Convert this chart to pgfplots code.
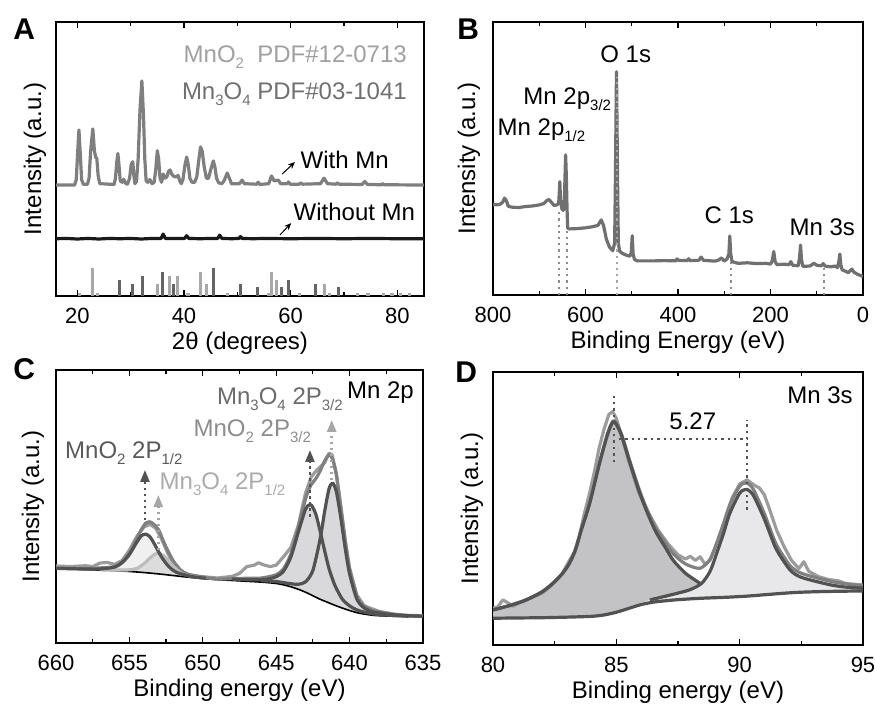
\documentclass[border=0pt]{standalone}
\usepackage{fontspec}
\setmainfont{Liberation Sans}
\usepackage{pgfplots}
\pgfplotsset{compat=1.18}
\usepgfplotslibrary{fillbetween}
\usetikzlibrary{arrows.meta}

\definecolor{gA}{HTML}{7F7F7F}
\definecolor{barL}{HTML}{A8A8A8}
\definecolor{barD}{HTML}{646464}
\definecolor{txtL}{HTML}{A0A0A0}
\definecolor{txtD}{HTML}{707070}
\definecolor{survey}{HTML}{707070}
\definecolor{dotB}{HTML}{8C8C8C}
\definecolor{compD}{HTML}{525252}
\definecolor{envG}{HTML}{808080}
\definecolor{rawG}{HTML}{9C9C9C}
\definecolor{compL}{HTML}{BDBDBD}
\definecolor{fillC}{HTML}{D9D9DB}
\definecolor{fillCa}{HTML}{F0F0F0}
\definecolor{fillCb}{HTML}{DCDCDC}
\definecolor{fillDa}{HTML}{C3C3C5}
\definecolor{fillDb}{HTML}{E8E8EA}

\newcommand{\lab}{\fontsize{12}{14}\selectfont}
\newcommand{\sub}[1]{\raisebox{-3pt}{\fontsize{7.5}{8}\selectfont #1}}

\pgfplotsset{
  panel/.style={
    scale only axis,
    axis line style={line width=0.9pt},
    ymin=0, ymax=100,
    ytick=\empty, minor ytick={10,20,...,90},
    minor x tick num=1,
    tick align=inside,
    major tick length=3pt, minor tick length=2pt,
    every tick/.style={black,line width=0.6pt},
    xticklabel style={font=\fontsize{11}{13}\selectfont,anchor=center,yshift=-10pt,inner sep=0pt},
    /pgf/number format/assume math mode=true,
    /pgf/number format/1000 sep={},
    every axis x label/.style={at={(axis description cs:0.5,0)},anchor=center,yshift=-23.5pt,font=\lab,inner sep=0pt},
    every axis y label/.style={rotate=90,anchor=center,font=\lab,inner sep=0pt},
    set layers,
  },
  fitline/.style={smooth,tension=0.45,line width=1.6pt,line join=round},
  rawline/.style={line width=1.6pt,line join=round},
}
\tikzset{note/.style={font=\lab,inner sep=0pt}}

\begin{document}
\begin{tikzpicture}

% ---------- A: XRD ----------
\begin{axis}[panel, at={(28pt,205.5pt)}, anchor=south west,
  width=184pt, height=137pt,
  xmin=16, xmax=85, xtick={20,40,60,80},
  xlabel={2θ (degrees)}, ylabel={Intensity (a.u.)},
  ylabel style={at={(axis description cs:-0.057,0.5)}}]
\addplot[ycomb, barL, line width=1.6pt, mark=none] coordinates {
 (20.4,1)(22.8,10.3)(23.75,1)(35.0,4.2)(37.3,7.2)(38.75,7.2)(40.75,1)(43.1,8.7)
 (44.2,4.2)(48.1,1)(55.9,1)(56.4,8.7)(57.4,5.7)(61.7,1)(66.3,4.2)(67.3,1)
 (72.6,1)(74.5,1)(77.4,1)(79,1)(80.6,1)(82.3,1)};
\addplot[ycomb, barD, line width=1.6pt, mark=none] coordinates {
 (27.9,5.7)(30.4,4.2)(32.2,7.2)(36.0,8.7)(38.1,4.2)(45.5,10.3)(50.6,4.2)
 (53.75,3.3)(58.25,3.3)(59.6,5.7)(64.6,4.2)(69,3.3)};
\addplot[rawline, black!90] coordinates {
 (16,20.9)(18,21)(20,20.8)(22,21)(24,20.8)(26,21)(28,20.9)(30,21)(32,20.8)(34,21)
 (35.7,21)(36.1,22.6)(36.5,21)(38,21)(40.1,21)(40.5,22)(40.9,21)(43,20.9)(45,21)
 (46.3,21)(46.7,22.2)(47.1,21)(49,20.9)(50.3,21)(50.6,21.7)(50.9,21)(53,20.9)
 (55,21)(60,20.9)(65,21)(70,20.9)(75,21)(80,20.9)(85,20.9)};
\addplot[rawline, gA] coordinates {
 (16,40.5)(19.5,40.5)(19.8,42.5)(20.05,52)(20.3,60.6)(20.55,52)(20.8,42.5)(21.1,40.8)
 (21.9,40.8)(22.2,43)(22.5,53)(22.9,61)(23.2,53)(23.45,50.5)(23.65,50.3)(23.9,44)
 (24.2,41)(26.9,40.7)(27.15,43)(27.4,49)(27.6,52)(27.8,48)(28.05,42)(28.4,41.5)
 (28.7,42.6)(29.0,41.2)(29.4,40.8)(29.8,43)(30.1,48)(30.4,49)(30.6,44)(30.8,41)
 (31.1,41.8)(31.4,50)(31.75,68)(32.1,78.5)(32.4,66)(32.65,50)(32.9,42)(33.2,41.5)
 (33.6,42.5)(34.0,41)(34.4,41.5)(34.7,46)(35.0,53)(35.25,50)(35.5,43)(35.8,41.5)
 (36.1,44.5)(36.4,43)(36.8,43.5)(37.1,45.5)(37.4,46)(37.7,44.5)(38.1,43.6)(38.5,43.5)
 (38.9,44)(39.2,42)(39.5,41)(39.8,42.5)(40.2,48)(40.5,50.7)(40.8,48)(41.1,43)
 (41.5,41.5)(42.0,41.5)(42.4,43.5)(42.8,50)(43.1,54.4)(43.4,53)(43.8,47)(44.2,43)
 (44.6,43)(45.0,46)(45.5,49.3)(45.8,47)(46.1,43)(46.5,41.3)(47.1,41)(47.5,42)
 (48.1,44.9)(48.5,43)(48.9,41)(50.4,41)(50.9,42.3)(51.3,41)(53.6,40.8)(53.9,41.5)
 (54.2,40.7)(55.9,41)(56.4,43.8)(56.9,42)(57.7,42.3)(58.1,41)(59.3,41)(59.6,41.6)
 (59.9,40.8)(61.6,40.8)(61.9,41.3)(62.2,40.8)(65.6,41)(66.25,43)(66.9,41)(68.5,40.8)
 (68.75,41.3)(69.1,40.8)(73.4,40.7)(73.9,41.8)(74.4,40.7)(77,40.6)(77.25,41)
 (77.5,40.6)(85,40.5)};
\node[note, anchor=base east, text=txtL] at (axis cs:81.85,85.1)
  {MnO\sub{2}\ \ PDF\#12-0713};
\node[note, anchor=base east, text=txtD] at (axis cs:81.85,71.8)
  {Mn\sub{3}O\sub{4} PDF\#03-1041};
\node[note, anchor=base west] at (axis cs:61.8,46.6) {With Mn};
\node[note, anchor=base west] at (axis cs:60.5,27.7) {Without Mn};
\draw[-{Stealth[length=3.5pt,width=3pt]}, line width=0.5pt] (axis cs:58.4,44.5) -- (axis cs:60.8,48.9);
\draw[-{Stealth[length=3.5pt,width=3pt]}, line width=0.5pt] (axis cs:58.0,22.3) -- (axis cs:60.1,26.6);
\end{axis}

% ---------- B: XPS survey ----------
\begin{axis}[panel, at={(246.5pt,206pt)}, anchor=south west,
  width=185pt, height=136.5pt,
  x dir=reverse, xmin=0, xmax=800, xtick={0,200,...,800},
  xlabel={Binding Energy (eV)}, ylabel={Intensity (a.u.)},
  ylabel style={at={(axis description cs:-0.065,0.5)}}]
\addplot[dotB, dotted, line width=1.1pt] coordinates {(656.7,0)(656.7,31)};
\addplot[dotB, dotted, line width=1.1pt] coordinates {(640.7,0)(640.7,24)};
\addplot[dotB, dotted, line width=1.1pt] coordinates {(285,0)(285,12)};
\addplot[dotB, dotted, line width=1.1pt] coordinates {(84,0)(84,11)};
\addplot[rawline, survey] coordinates {
 (800,33.3)(792,33)(785,33.2)(779,34)(775,35.5)(771,34.5)(767,32.5)(760,32.2)
 (745,32)(730,32.4)(715,32.6)(700,33)(690,33.5)(684,34.5)(679,35)(674,34)(668,32.8)
 (662,33)(658,33.5)(656.5,38)(655.5,41.5)(654,35)(651,31.5)(648,31)(646,33)
 (644.5,42)(643,51.3)(641.5,44)(640,32)(638.5,24.5)(635,24.2)(620,24.3)(600,24.6)
 (585,25)(573,25.5)(566,27.5)(561,25.5)(555,20.5)(548,17.5)(541,16.2)(537,19)
 (535.5,40)(533,81.8)(530.5,40)(529,19)(526,16)(521,15.3)(512,14.6)(504,14.2)
 (501,15.5)(499,21.7)(497,15)(494,13)(488,12.5)(470,12.5)(450,12.5)(430,12.6)
 (405,12.5)(402,13.2)(398,12.6)(380,12.6)(377,13.3)(374,12.6)(355,12.7)(350,13.9)
 (345,12.7)(320,12.4)(312,12.8)(306,13.6)(300,12.4)(294,13.2)(290,15)(288,21.6)
 (286,15)(283,12.2)(270,11.6)(250,11.8)(230,11.5)(210,11.6)(200,11.3)(196,12.6)
 (193,15.9)(190,12.2)(186,11.1)(170,11.3)(160,11.1)(156,12.2)(152,10.9)(140,10.7)
 (137,14)(135,18.3)(133,13)(130,10.5)(115,10.6)(106,11.6)(100,10.9)(90,10.7)
 (86,11.5)(82,10.6)(70,10.3)(60,10.6)(55,10)(52,12.5)(50,15)(48,11)(45,9.2)
 (38,8.7)(32,8.2)(27,9)(24,9.5)(20,8.4)(12,7.6)(5,7.1)(0,6.8)};
\addplot[black!35, dotted, line width=1.1pt] coordinates {(531.5,0)(531.5,80)};
\node[note, anchor=base] at (axis cs:513,85.2) {O 1s};
\node[note, anchor=base west] at (axis cs:735,69.6) {Mn 2p\sub{3/2}};
\node[note, anchor=base west] at (axis cs:790.7,58.6) {Mn 2p\sub{1/2}};
\node[note, anchor=base] at (axis cs:289,26.3) {C 1s};
\node[note, anchor=base] at (axis cs:88,21.7) {Mn 3s};
\end{axis}

% ---------- C: Mn 2p ----------
\begin{axis}[panel, at={(28pt,32pt)}, anchor=south west,
  width=183.5pt, height=136.5pt,
  x dir=reverse, xmin=635, xmax=660, xtick={635,640,...,660},
  xlabel={Binding energy (eV)}, ylabel={Intensity (a.u.)},
  ylabel style={at={(axis description cs:-0.063,0.5)}}]
\addplot[name path=bgC, draw=none, smooth, tension=0.45] coordinates {
 (635,9.6)(636,9.7)(637,9.8)(638,10.0)(638.5,10.2)(639,10.6)(639.5,11.1)(640,11.9)
 (640.5,12.8)(641,13.8)(641.5,14.9)(642,16.0)(642.5,17.3)(643,18.6)(643.5,19.7)
 (644,20.6)(644.5,21.3)(645,21.8)(646,22.3)(647,22.6)(648,22.9)(649,23.2)(650,23.6)
 (651,24.1)(652,24.7)(653,25.3)(654,25.8)(655,26.2)(656,26.5)(657,26.7)(658,26.9)
 (659,27.1)(660,27.3)};
\addplot[name path=c1, draw=none, smooth, tension=0.45] coordinates {
 (636,9.8)(638,10.4)(639,11.3)(639.5,12.1)(640,13.6)(640.5,16.1)(641,21.1)(641.4,27.2)
 (641.7,33.8)(642,40.8)(642.3,47.2)(642.65,50.7)(643,49.0)(643.5,40.5)(644,31.5)
 (644.5,26.3)(645,24.3)(645.5,23.5)(646,23.2)(647,23.2)(648,23.4)};
\addplot[name path=c2, draw=none, smooth, tension=0.45] coordinates {
 (635,9.8)(636,10.0)(637,10.3)(638,11.0)(638.5,11.5)(639,12.8)(639.5,16.0)(640,25.3)
 (640.3,34.7)(640.6,45.9)(640.9,55.4)(641.15,58.6)(641.4,56.5)(641.7,48.2)(642,38.3)
 (642.5,26.6)(643,22.4)(643.5,21.5)(644,21.7)(645,22.5)(646,22.8)};
\addplot[name path=c3, draw=none, smooth, tension=0.45] coordinates {
 (649.8,23.7)(650.8,24.4)(651.8,25.9)(652.3,27.9)(652.8,31.4)(653.3,36.3)(653.6,38.9)
 (653.9,39.9)(654.2,39.2)(654.5,36.9)(655,32.4)(655.5,29.4)(656,27.8)(657,27.1)
 (658,27.1)(659,27.2)(660,27.35)};
\addplot[name path=c4, draw=none, smooth, tension=0.45] coordinates {
 (650,23.8)(651,24.7)(651.5,25.7)(652,28.0)(652.4,30.5)(652.7,32.1)(653,32.9)
 (653.3,32.4)(653.6,31.1)(654,29.1)(654.5,27.3)(655,26.8)(656,26.7)(657,26.8)};
\addplot[fill=fillC, draw=none] fill between[of=c1 and bgC, soft clip={domain=636:648}];
\addplot[fill=fillC, draw=none] fill between[of=c2 and bgC, soft clip={domain=635:646}];
\addplot[fill=fillCa, draw=none] fill between[of=c3 and bgC, soft clip={domain=649.8:660}];
\addplot[fill=fillCb, draw=none] fill between[of=c4 and bgC, soft clip={domain=650:657}];
% background
\addplot[smooth, tension=0.45, black, line width=0.8pt] coordinates {
 (635,9.6)(636,9.7)(637,9.8)(638,10.0)(638.5,10.2)(639,10.6)(639.5,11.1)(640,11.9)
 (640.5,12.8)(641,13.8)(641.5,14.9)(642,16.0)(642.5,17.3)(643,18.6)(643.5,19.7)
 (644,20.6)(644.5,21.3)(645,21.8)(646,22.3)(647,22.6)(648,22.9)(649,23.2)(650,23.6)
 (651,24.1)(652,24.7)(653,25.3)(654,25.8)(655,26.2)(656,26.5)(657,26.7)(658,26.9)
 (659,27.1)(660,27.3)};
% raw data
\addplot[rawline, rawG] coordinates {
 (635,10.0)(636,10.1)(637,10.6)(638,11.6)(639,13.6)(639.5,17.5)(640,27.5)(640.3,38)
 (640.6,50)(640.9,62)(641.2,69)(641.4,69.5)(641.7,66)(642.0,64.5)(642.2,63.5)
 (642.6,61)(643,55)(643.5,43)(644,35)(644.5,31.6)(645,28.5)(645.4,28)(645.8,28.5)
 (646.2,29.4)(646.5,28.5)(647,28)(647.5,25.5)(648,24.4)(649,23.8)(650,24.3)(651,25)
 (651.5,26)(652,29)(652.4,33)(652.8,38)(653.2,42)(653.6,43.5)(654,42.5)(654.5,39)
 (655,34)(655.5,30.2)(656,28.8)(656.5,29.5)(657,29.3)(657.5,28.0)(658,28.3)(659,28)
 (660,28.2)};
% envelope
\addplot[fitline, envG] coordinates {
 (635,9.8)(636,10.0)(637,10.5)(638,11.4)(638.5,12.0)(639,13.5)(639.5,17.0)(640,27.0)
 (640.3,37.3)(640.6,49.9)(640.9,61.4)(641.15,67.2)(641.4,69.0)(641.7,66.7)(642,63.1)
 (642.3,60.2)(642.65,57.7)(643,52.8)(643.5,42.3)(644,32.6)(644.5,27.2)(645,25.0)
 (646,23.8)(647,23.7)(648,23.6)(649,23.4)(650,24.1)(651,25.2)(651.5,26.7)(652,30.0)
 (652.4,34.0)(652.7,37.5)(653,41.4)(653.3,43.3)(653.6,44.4)(653.9,43.8)(654.2,41.4)
 (654.5,38.2)(655,33.0)(655.5,29.8)(656,28.0)(657,27.5)(658,27.3)(659,27.3)(660,27.4)};
% components
\addplot[fitline, compL] coordinates {
 (650,23.8)(651,24.7)(651.5,25.7)(652,28.0)(652.4,30.5)(652.7,32.1)(653,32.9)
 (653.3,32.4)(653.6,31.1)(654,29.1)(654.5,27.3)(655,26.8)(656,26.7)(657,26.8)};
\addplot[fitline, compD] coordinates {
 (649.8,23.7)(650.8,24.4)(651.8,25.9)(652.3,27.9)(652.8,31.4)(653.3,36.3)(653.6,38.9)
 (653.9,39.9)(654.2,39.2)(654.5,36.9)(655,32.4)(655.5,29.4)(656,27.8)(657,27.1)
 (658,27.1)(659,27.2)(660,27.35)};
\addplot[fitline, compD] coordinates {
 (636,9.8)(638,10.4)(639,11.3)(639.5,12.1)(640,13.6)(640.5,16.1)(641,21.1)(641.4,27.2)
 (641.7,33.8)(642,40.8)(642.3,47.2)(642.65,50.7)(643,49.0)(643.5,40.5)(644,31.5)
 (644.5,26.3)(645,24.3)(645.5,23.5)(646,23.2)(647,23.2)(648,23.4)};
\addplot[fitline, compD] coordinates {
 (635,9.8)(636,10.0)(637,10.3)(638,11.0)(638.5,11.5)(639,12.8)(639.5,16.0)(640,25.3)
 (640.3,34.7)(640.6,45.9)(640.9,55.4)(641.15,58.6)(641.4,56.5)(641.7,48.2)(642,38.3)
 (642.5,26.6)(643,22.4)(643.5,21.5)(644,21.7)(645,22.5)(646,22.8)};
% arrows
\draw[black!68, line width=1.2pt, dash pattern=on 1.2pt off 1.8pt,
  -{Triangle[width=4.5pt,length=6pt]}] (axis cs:653.94,45) -- (axis cs:653.94,63.4);
\draw[black!35, line width=1.2pt, dash pattern=on 1.2pt off 1.8pt,
  -{Triangle[width=4.5pt,length=6pt]}] (axis cs:653.03,34) -- (axis cs:653.03,54.2);
\draw[black!68, line width=1.2pt, dash pattern=on 1.2pt off 1.8pt,
  -{Triangle[width=4.5pt,length=6pt]}] (axis cs:642.7,46.3) -- (axis cs:642.7,70.7);
\draw[black!35, line width=1.2pt, dash pattern=on 1.2pt off 1.8pt,
  -{Triangle[width=4.5pt,length=6pt]}] (axis cs:641.22,59.7) -- (axis cs:641.22,81.7);
\node[note, anchor=base east] at (axis cs:635.6,89.6) {Mn 2p};
\node[note, anchor=base west, text=black!58] at (axis cs:649.05,87.2)
  {Mn\sub{3}O\sub{4} 2P\sub{3/2}};
\node[note, anchor=base west, text=black!45] at (axis cs:650.65,75.6)
  {MnO\sub{2} 2P\sub{3/2}};
\node[note, anchor=base west, text=black!65] at (axis cs:659.4,67.7)
  {MnO\sub{2} 2P\sub{1/2}};
\node[note, anchor=base west, text=black!33] at (axis cs:652.96,56.3)
  {Mn\sub{3}O\sub{4} 2P\sub{1/2}};
\end{axis}

% ---------- D: Mn 3s ----------
\begin{axis}[panel, at={(246.5pt,31pt)}, anchor=south west,
  width=185pt, height=136.5pt,
  xmin=80, xmax=95, xtick={80,85,90,95},
  xlabel={Binding energy (eV)}, ylabel={Intensity (a.u.)},
  ylabel style={at={(axis description cs:-0.057,0.5)}}]
% filled components (component curve, then background back)
\addplot[fill=fillDa, draw=none] coordinates {
 (80,12.8)(80.7,14.5)(81.35,16.5)(82,19.5)(82.43,22.6)(82.8,26)(83.1,29.9)(83.35,35)
 (83.58,42.1)(83.92,51.9)(84.32,66.6)(84.66,77.5)(84.9,81.8)(85.2,77)(85.54,67)
 (85.95,55.6)(86.3,47.5)(86.6,41.5)(87.0,35.5)(87.31,31)(87.8,26.3)(88.39,22.6)
 (88.4,17.1)(87.5,16.6)(87,16.2)(86.5,15.7)(86,14.8)(85.5,13.4)(85,12.0)(84.5,11.0)
 (84,10.5)(83,10.2)(82,10.0)(81,9.9)(80,9.8)};
\addplot[fill=fillDb, draw=none] coordinates {
 (85.0,12.4)(85.5,14.0)(86.36,16.5)(87.45,18.9)(88.0,20.3)(88.46,22.6)(88.8,27)
 (89.07,33.6)(89.35,41)(89.6,48.2)(90.0,55.6)(90.28,57)(90.55,54.9)(90.96,47)
 (91.2,41.5)(91.5,34.8)(92.04,27.5)(92.44,25)(93,23.5)(93.7,22)(94.3,21.2)(95,20.8)
 (95,19.8)(93.5,19.6)(92.4,19.3)(91.7,18.9)(91,18.4)(90.3,17.9)(89.5,17.5)(88.4,17.1)
 (87.5,16.6)(87,16.2)(86.5,15.7)(86,14.8)(85.5,13.4)(85,12.0)};
% background
\addplot[smooth, tension=0.45, compD, line width=1.6pt] coordinates {
 (80,9.8)(81,9.9)(82,10.0)(83,10.2)(84,10.5)(84.5,11.0)(85,12.0)(85.5,13.4)(86,14.8)
 (86.5,15.7)(87,16.2)(87.5,16.6)(88.4,17.1)(89.5,17.5)(90.3,17.9)(91,18.4)(91.7,18.9)
 (92.4,19.3)(93.5,19.6)(95,19.8)};
% raw data
\addplot[rawline, rawG] coordinates {
 (80,13.5)(80.2,14)(80.4,16.5)(80.6,15.5)(80.8,14.2)(81.2,16)(81.6,17.5)(82,19)
 (82.4,22)(82.8,26)(83.1,31)(83.3,34)(83.5,40)(83.7,48)(83.9,55)(84.1,63)(84.3,72)
 (84.5,79)(84.7,84.5)(84.85,85.5)(85.0,83)(85.2,77)(85.5,67.5)(85.9,56)(86.3,48.5)
 (86.7,42)(87.1,37)(87.5,33)(87.8,31.5)(88.0,32.5)(88.2,31)(88.4,32.3)(88.6,29.5)
 (88.8,31)(89.1,38)(89.4,46)(89.7,54)(90.0,59)(90.3,60.5)(90.6,58.5)(90.8,57.5)
 (91.0,55)(91.2,50)(91.5,42)(91.8,36)(92.1,31)(92.4,28)(92.6,30.5)(92.8,27)
 (93.2,25)(93.6,24)(94,23.5)(94.3,22.5)(95,22)};
% envelope
\addplot[fitline, envG] coordinates {
 (80,12.9)(80.7,14.6)(81.35,16.6)(82,19.6)(82.43,22.7)(82.8,26.1)(83.1,30.1)
 (83.35,35.2)(83.58,42.3)(83.92,52.1)(84.32,66.9)(84.66,77.9)(84.9,82.2)(85.2,77.5)
 (85.54,67.6)(85.95,56.4)(86.3,48.4)(86.6,42.8)(87.0,37.3)(87.31,33.4)(87.8,29.7)
 (88.39,28.1)(88.8,31.4)(89.07,37.3)(89.35,44.4)(89.6,51.3)(90.0,58.1)(90.28,59.4)
 (90.55,57.1)(90.96,49)(91.2,43.4)(91.5,36.6)(92.04,29.1)(92.44,26.5)(93,24.9)
 (93.7,23.3)(94.3,22.4)(95,21.6)};
% components
\addplot[fitline, compD] coordinates {
 (80,12.8)(80.7,14.5)(81.35,16.5)(82,19.5)(82.43,22.6)(82.8,26)(83.1,29.9)(83.35,35)
 (83.58,42.1)(83.92,51.9)(84.32,66.6)(84.66,77.5)(84.9,81.8)(85.2,77)(85.54,67)
 (85.95,55.6)(86.3,47.5)(86.6,41.5)(87.0,35.5)(87.31,31)(87.8,26.3)(88.39,22.6)};
\addplot[fitline, compD] coordinates {
 (86.36,16.5)(87.45,18.9)(88.0,20.3)(88.46,22.6)(88.8,27)
 (89.07,33.6)(89.35,41)(89.6,48.2)(90.0,55.6)(90.28,57)(90.55,54.9)(90.96,47)
 (91.2,41.5)(91.5,34.8)(92.04,27.5)(92.44,25)(93,23.5)(93.7,22)(94.3,21.2)(95,20.8)};
\addplot[compD, dotted, line width=1.2pt] coordinates {(84.9,67)(84.9,92.2)};
\addplot[compD, dotted, line width=1.2pt] coordinates {(85.1,75.5)(90.3,75.5)};
\addplot[compD, dotted, line width=1.2pt] coordinates {(90.3,49.5)(90.3,82.4)};
\node[note, anchor=base] at (axis cs:88.1,78.8) {5.27};
\node[note, anchor=base east] at (axis cs:94.6,88.5) {Mn 3s};
\end{axis}

\node[anchor=base west, inner sep=0pt, font=\fontsize{15}{17}\selectfont\bfseries] at (6.5pt,333.5pt) {A};
\node[anchor=base west, inner sep=0pt, font=\fontsize{15}{17}\selectfont\bfseries] at (228.5pt,333.5pt) {B};
\node[anchor=base west, inner sep=0pt, font=\fontsize{15}{17}\selectfont\bfseries] at (6.5pt,163.5pt) {C};
\node[anchor=base west, inner sep=0pt, font=\fontsize{15}{17}\selectfont\bfseries] at (227.5pt,162pt) {D};
\pgfresetboundingbox
\path[use as bounding box] (0,0) rectangle (437.5pt,353.5pt);
\end{tikzpicture}
\end{document}
